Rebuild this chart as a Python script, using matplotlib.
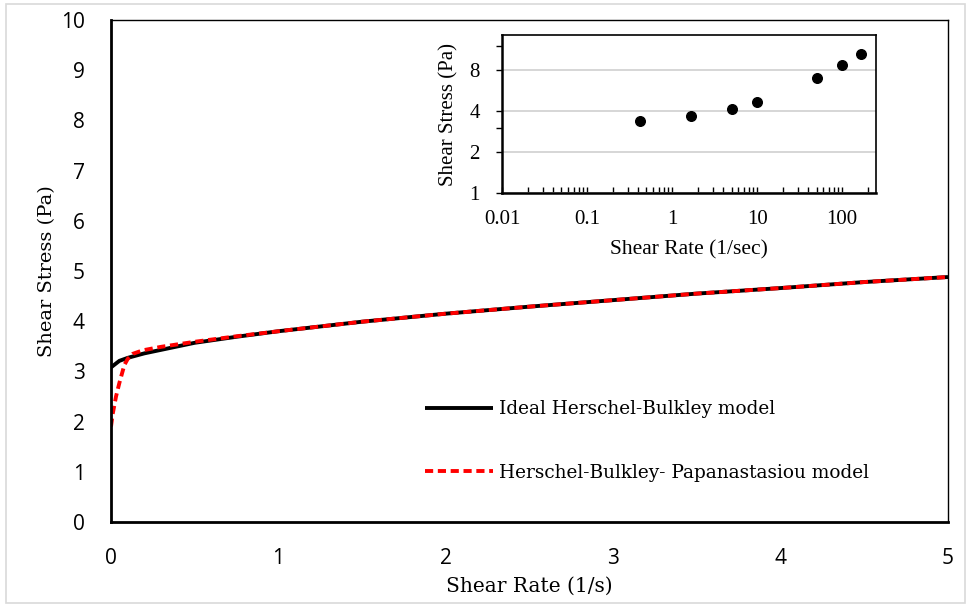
import matplotlib
matplotlib.use("Agg")
import matplotlib.pyplot as plt
from matplotlib.patches import Rectangle
from matplotlib.ticker import FixedLocator, NullFormatter, LogLocator

# Main chart data
hb_x = [0, 0.05, 0.1, 0.2, 0.3, 0.5, 0.75, 1, 1.5, 2, 2.5, 3, 3.5, 4, 4.5, 5]
hb_y = [3.08, 3.21, 3.27, 3.36, 3.43, 3.57, 3.69, 3.80, 3.99, 4.15, 4.29, 4.42, 4.55, 4.66, 4.78, 4.88]

hbp_x = [0, 0.01, 0.03, 0.05, 0.08, 0.1, 0.13, 0.19, 0.3, 0.5, 0.75, 1, 1.5, 2, 2.5, 3, 3.5, 4, 4.5, 5]
hbp_y = [1.90, 2.15, 2.50, 2.77, 3.13, 3.25, 3.35, 3.42, 3.49, 3.59, 3.70, 3.80, 3.99, 4.15, 4.29, 4.42, 4.55, 4.66, 4.78, 4.88]

main_xticks = [0, 1, 2, 3, 4, 5]
main_yticks = [0, 1, 2, 3, 4, 5, 6, 7, 8, 9, 10]

# Inset data
inset_rate = [0.42, 1.69, 5.1, 10.1, 50, 100, 166]
inset_stress = [3.38, 3.66, 4.14, 4.65, 6.92, 8.65, 10.5]
inset_xticks = [0.01, 0.1, 1, 10, 100]
inset_xticklabels = ["0.01", "0.1", "1", "10", "100"]
inset_yticks = [1, 2, 4, 8]
inset_yticklabels = ["1", "2", "4", "8"]

labels = ["Ideal Herschel-Bulkley model", "Herschel-Bulkley- Papanastasiou model"]

W, H = 969, 607
fig = plt.figure(figsize=(W / 100, H / 100), dpi=100)

# outer border
fig.patches.append(Rectangle((6 / W, 4 / H), (W - 10) / W, (H - 8) / H, transform=fig.transFigure,
                             fill=False, edgecolor="#d9d9d9", linewidth=1.2))

ax = fig.add_axes([111 / W, 1 - 522 / H, (948 - 111) / W, (522 - 20) / H])
ax.plot(hb_x, hb_y, color="black", lw=2.8, label=labels[0], solid_capstyle="butt")
ax.plot(hbp_x, hbp_y, color="#ff0000", lw=2.8, ls=(0, (2.1, 1.2)), label=labels[1])
ax.set_xlim(0, 5)
ax.set_ylim(0, 10)
ax.set_xticks(main_xticks)
ax.set_yticks(main_yticks)
ax.tick_params(axis="y", length=0, labelsize=15, pad=19, colors="black")
ax.tick_params(axis="x", length=0, labelsize=15, pad=19, colors="black")
for lab in ax.get_xticklabels() + ax.get_yticklabels():
    lab.set_fontfamily("Open Sans")
for s in ax.spines.values():
    s.set_linewidth(1.0)
    s.set_color("black")
ax.spines["left"].set_linewidth(2.0)
ax.spines["bottom"].set_linewidth(2.0)
ax.set_xlabel("Shear Rate (1/s)", fontsize=14.5, family="DejaVu Serif", labelpad=5)
ax.set_ylabel("Shear Stress (Pa)", fontsize=14, family="DejaVu Serif", labelpad=3)
leg = ax.legend(loc="upper left", bbox_to_anchor=(0.355, 0.276), frameon=False,
                prop={"family": "DejaVu Serif", "size": 13.3}, handlelength=3.7,
                handletextpad=0.3, labelspacing=2.46)

# Inset
ia = fig.add_axes([502 / W, 1 - 193 / H, (876 - 502) / W, (193 - 35) / H])
ia.set_xscale("log")
ia.set_yscale("log", base=2)
ia.scatter(inset_rate, inset_stress, s=48, color="black", zorder=3)
ia.set_xlim(0.01, 250)
ia.set_ylim(1, 14.4)
ia.set_xticks(inset_xticks)
ia.set_xticklabels(inset_xticklabels)
ia.xaxis.set_minor_locator(LogLocator(base=10, subs=range(2, 10), numticks=20))
ia.xaxis.set_minor_formatter(NullFormatter())
ia.set_yticks(inset_yticks)
ia.set_yticklabels(inset_yticklabels)
ia.yaxis.set_minor_locator(FixedLocator([3, 12]))
ia.yaxis.set_minor_formatter(NullFormatter())
ia.grid(axis="y", which="major", color="#d0d0d0", lw=1.2)
ia.tick_params(axis="x", which="both", direction="in", length=4, width=1)
ia.tick_params(axis="y", which="both", direction="out", length=4, width=1)
ia.tick_params(axis="x", labelsize=15, pad=12)
ia.tick_params(axis="y", labelsize=15, pad=12)
for lab in ia.get_xticklabels() + ia.get_yticklabels():
    lab.set_fontfamily("Liberation Serif")
for s in ia.spines.values():
    s.set_linewidth(1.2)
ia.spines["left"].set_linewidth(1.8)
ia.spines["bottom"].set_linewidth(1.8)
ia.set_xlabel("Shear Rate (1/sec)", fontsize=15.5, family="Liberation Serif", labelpad=8)
ia.set_ylabel("Shear Stress (Pa)", fontsize=15, family="Liberation Serif", labelpad=8)

fig.savefig("out.png", dpi=100)
